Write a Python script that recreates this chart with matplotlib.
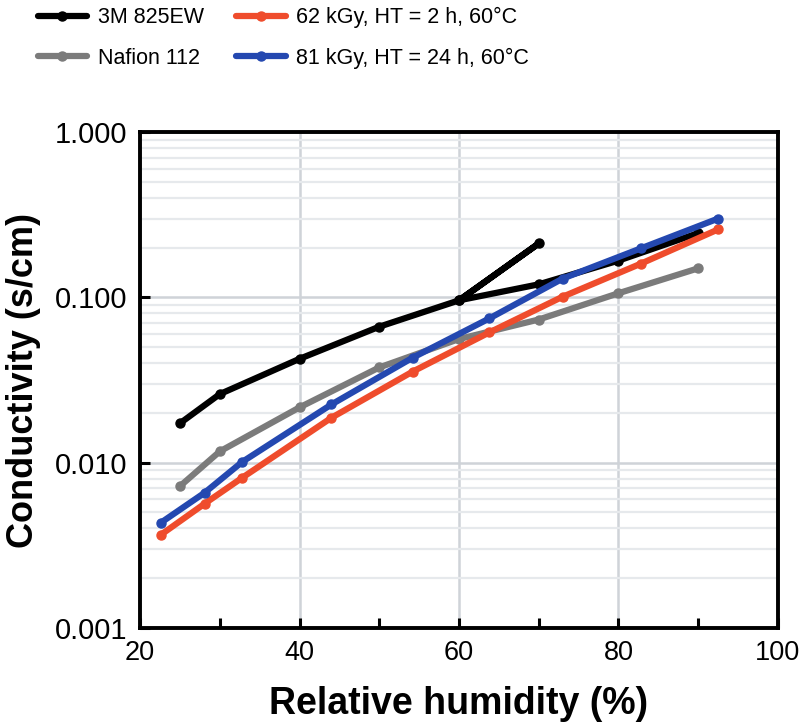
import matplotlib.pyplot as plt
from matplotlib.ticker import FixedLocator, NullFormatter, LogLocator
import numpy as np

plt.rcParams["font.family"] = ["Liberation Sans", "DejaVu Sans"]

# 3M 825EW: the line runs up to 70 % then returns to 60 % and continues
rh_3m = [25, 30, 40, 50, 60, 70, 60, 70, 80, 90]
cond_3m = [0.0173, 0.026, 0.0425, 0.0665, 0.096, 0.212, 0.096, 0.12, 0.167, 0.245]

rh_nafion = [25, 30, 40, 50, 60, 70, 80, 90]
cond_nafion = [0.0072, 0.0117, 0.0216, 0.0377, 0.056, 0.0735, 0.106, 0.15]

rh_irr = [22.6, 28.1, 32.8, 44.0, 54.2, 63.8, 73.0, 82.8, 92.5]
cond_62kgy = [0.00366, 0.00565, 0.0081, 0.0187, 0.0356, 0.0614, 0.101, 0.16, 0.258]
cond_81kgy = [0.00433, 0.00658, 0.0101, 0.0225, 0.0432, 0.0746, 0.13, 0.198, 0.30]

series = [
    ("3M 825EW", rh_3m, cond_3m, "black"),
    ("Nafion 112", rh_nafion, cond_nafion, "#7b7b7b"),
    ("62 kGy, HT = 2 h, 60°C", rh_irr, cond_62kgy, "#ef4c2c"),
    ("81 kGy, HT = 24 h, 60°C", rh_irr, cond_81kgy, "#2448b0"),
]

fig = plt.figure(figsize=(8, 7.26), dpi=100)
ax = fig.add_axes([0.175, 0.135, 0.7975, 0.683])

for label, x, y, color in series:
    ax.plot(x, y, color=color, linewidth=4.5, marker="o", markersize=6.5,
            label=label, solid_capstyle="round", zorder=3)

ax.set_yscale("log")
ax.set_xlim(20, 100)
ax.set_ylim(0.001, 1.0)

ax.set_xticks([20, 40, 60, 80, 100])
ax.xaxis.set_minor_locator(FixedLocator([30, 50, 70, 90]))
ax.set_yticks([0.001, 0.01, 0.1, 1.0])
ax.set_yticklabels(["0.001", "0.010", "0.100", "1.000"])
ax.yaxis.set_minor_locator(LogLocator(base=10, subs=np.arange(2, 10)))
ax.yaxis.set_minor_formatter(NullFormatter())

ax.tick_params(axis="both", which="major", direction="in", length=7, width=2.2,
               pad=9)
ax.tick_params(axis="y", which="major", labelsize=21)
ax.tick_params(axis="x", which="major", labelsize=19.5)
ax.tick_params(axis="x", which="minor", direction="in", length=7, width=2.2)
ax.tick_params(axis="y", which="minor", length=0)

ax.grid(True, axis="x", which="major", color="#cfd3d8", linewidth=1.8, zorder=0)
ax.grid(True, axis="y", which="both", color="#e6e9ec", linewidth=1.6, zorder=0)
ax.grid(True, axis="y", which="major", color="#cfd3d8", linewidth=1.8, zorder=0)

for spine in ax.spines.values():
    spine.set_linewidth(2.8)

ax.set_xlabel("Relative humidity (%)", fontsize=27, fontweight="bold", labelpad=14)
ax.set_ylabel("Conductivity (s/cm)", fontsize=26, fontweight="bold", labelpad=10)

handles, labels = ax.get_legend_handles_labels()
fig.legend(handles, labels, ncol=2, loc="upper left", bbox_to_anchor=(0.047, 0.99),
           frameon=False, fontsize=15.5, handlelength=2.3, columnspacing=1.5,
           labelspacing=0.9, handletextpad=0.5, borderpad=0, borderaxespad=0)

fig.savefig("out.png", dpi=100)
